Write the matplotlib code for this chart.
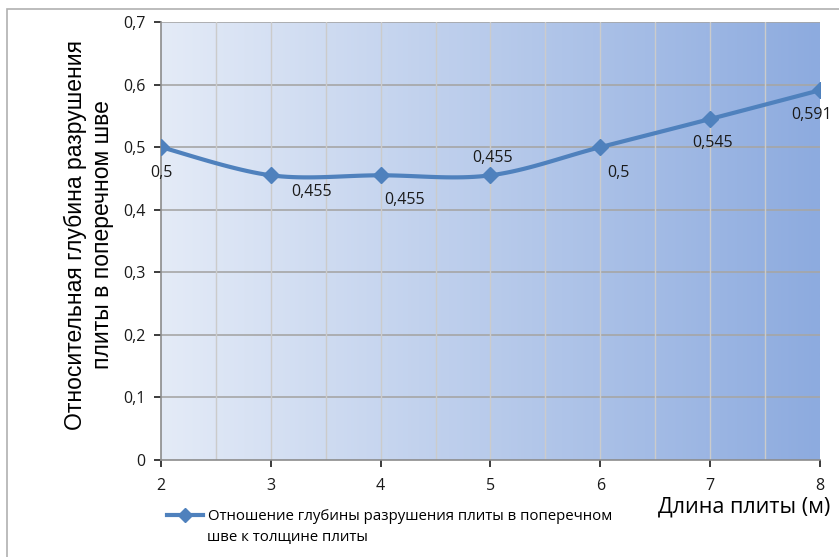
import matplotlib.pyplot as plt
import numpy as np
from matplotlib.patches import Rectangle
from matplotlib.lines import Line2D

plt.rcParams['font.family'] = ['Open Sans', 'DejaVu Sans']

# data
dlina = [2, 3, 4, 5, 6, 7, 8]
otnoshenie = [0.5, 0.455, 0.455, 0.455, 0.5, 0.545, 0.591]
podpisi = ['0,5', '0,455', '0,455', '0,455', '0,5', '0,545', '0,591']
# label offsets in pixels (dx, dy)
sdvig = [(0, -26), (41, -17), (24, -25), (2, 17), (18, -26), (2, -24), (-8, -25)]

y_ticks = [0, 0.1, 0.2, 0.3, 0.4, 0.5, 0.6, 0.7]
y_tick_labels = ['0', '0,1', '0,2', '0,3', '0,4', '0,5', '0,6', '0,7']

legend_line1 = 'Отношение глубины разрушения плиты в поперечном'
legend_line2 = 'шве к толщине плиты'

blue = '#4f81bd'


def catmull(xs, ys, k=20):
    # smoothed line like excel
    xs = np.asarray(xs, float)
    ys = np.asarray(ys, float)
    px = np.concatenate([[xs[0]], xs, [xs[-1]]])
    py = np.concatenate([[ys[0]], ys, [ys[-1]]])
    ox, oy = [], []
    for i in range(1, len(px) - 2):
        t = np.linspace(0, 1, k, endpoint=False)
        p0x, p1x, p2x, p3x = px[i-1], px[i], px[i+1], px[i+2]
        p0y, p1y, p2y, p3y = py[i-1], py[i], py[i+1], py[i+2]
        c1x = p1x + (p2x - p0x) / 6
        c1y = p1y + (p2y - p0y) / 6
        c2x = p2x - (p3x - p1x) / 6
        c2y = p2y - (p3y - p1y) / 6
        bx = (1-t)**3*p1x + 3*(1-t)**2*t*c1x + 3*(1-t)*t**2*c2x + t**3*p2x
        by = (1-t)**3*p1y + 3*(1-t)**2*t*c1y + 3*(1-t)*t**2*c2y + t**3*p2y
        ox.extend(bx)
        oy.extend(by)
    ox.append(xs[-1])
    oy.append(ys[-1])
    return np.array(ox), np.array(oy)


fig = plt.figure(figsize=(8.39, 5.57), dpi=100)
W, H = 839, 557
ax = fig.add_axes([161/W, 1 - 460/H, (820-161)/W, (460-22)/H])

# outer frame
fig.patches.append(Rectangle((7/W, -0.1), 1.1, 1 - 9/H + 0.1, transform=fig.transFigure,
                             fill=False, edgecolor='#b0b0b0', linewidth=1.2))

# gradient background
grad = np.linspace(0, 1, 256)
c_left = np.array([228, 235, 247]) / 255
c_right = np.array([141, 171, 223]) / 255
img = c_left[None, None, :] * (1 - grad[None, :, None]) + c_right[None, None, :] * grad[None, :, None]
ax.imshow(img, extent=[2, 8, 0, 0.7], aspect='auto', zorder=0)

ax.set_xlim(2, 8)
ax.set_ylim(0, 0.7)
for yv in y_ticks[1:]:
    ax.axhline(yv, color='#a6a6a6', linewidth=1.2, zorder=1)
for xv in np.arange(2.5, 8, 0.5):
    ax.axvline(xv, color='#cbcbcb', linewidth=1, zorder=1)

sx, sy = catmull(dlina, otnoshenie)
ax.plot(sx, sy, color=blue, linewidth=3, zorder=3, solid_capstyle='round')
ax.plot(dlina, otnoshenie, linestyle='none', marker='D', markersize=8, color=blue, zorder=4)

for x, y, s, (dx, dy) in zip(dlina, otnoshenie, podpisi, sdvig):
    ax.annotate(s, (x, y), xytext=(dx, dy), textcoords='offset pixels',
                ha='center', va='center', fontsize=11.5, color='#1a1a1a', zorder=5)

ax.set_yticks(y_ticks)
ax.set_yticklabels(y_tick_labels)
ax.set_xticks(dlina)
ax.tick_params(axis='both', labelsize=11.5, colors='#1a1a1a', length=5, width=1.2)
ax.tick_params(axis='x', pad=8)
ax.tick_params(axis='y', pad=6)
for s in ['top', 'right']:
    ax.spines[s].set_visible(False)
ax.spines['left'].set_color('#8c8c8c')
ax.spines['bottom'].set_color('#8c8c8c')
ax.spines['left'].set_linewidth(1.2)
ax.spines['bottom'].set_linewidth(1.2)

fig.text(89/W, 1 - 235/H, 'Относительная глубина разрушения\nплиты в поперечном шве',
         rotation=90, ha='center', va='center', fontsize=16.5,
         family=['Liberation Sans', 'DejaVu Sans'], linespacing=1.2)

fig.text(744/W, 1 - 507/H, 'Длина плиты (м)', ha='center', va='center', fontsize=15.5)

# legend: first line with the handle, second line below it
handle = Line2D([], [], color=blue, linewidth=3, marker='D', markersize=7)
leg = fig.legend([handle], [legend_line1],
                 loc='center left', bbox_to_anchor=(167/W, 1 - 517/H), frameon=False,
                 fontsize=10.8, handlelength=2.4, handletextpad=0.3, borderpad=0, borderaxespad=0)
fig.text(207/W, 1 - 538/H, legend_line2, ha='left', va='center', fontsize=10.8)

fig.savefig('out.png', dpi=100)
